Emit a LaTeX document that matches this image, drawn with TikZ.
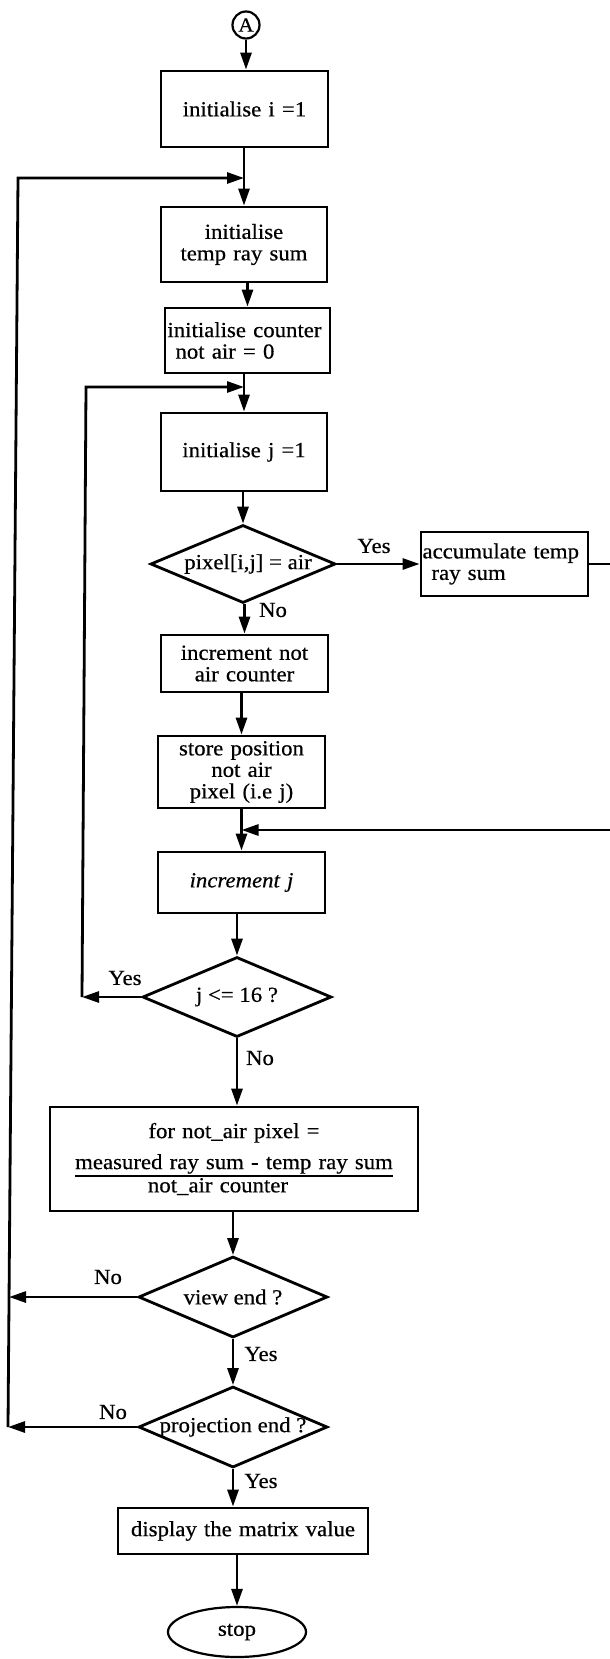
\documentclass[tikz,border=0pt]{standalone}
\usepackage{fontspec}
\setmainfont{Liberation Serif}[FakeStretch=1.06,FakeBold=0.5]
\usetikzlibrary{shapes.geometric,arrows.meta}
\newsavebox\ulbx
\newcommand\myul[1]{\leavevmode\sbox\ulbx{#1}\rlap{\rule[-8pt]{\wd\ulbx}{2pt}}\usebox\ulbx}
\tikzset{
  every node/.append style={font=\fontsize{21.5}{21.5}\selectfont},
  box/.style={draw, rectangle, line width=2.8pt, inner sep=0pt, align=center},
  dia/.style={draw, diamond, line width=2.8pt, inner sep=0pt, aspect=1},
  ln/.style={line width=2.8pt},
  arr/.style={line width=2.8pt, -{Triangle[length=17pt,width=11pt]}},
  lab/.style={inner sep=0pt},
}
\begin{document}
\begin{tikzpicture}[x=1pt,y=-1pt]
\useasboundingbox (0,0) rectangle (610,1659);
% nodes
\node[draw, circle, line width=2.2pt, minimum size=27pt, inner sep=0pt, font=\fontsize{20}{20}\selectfont] (A) at (246,25) {A};
\node[box, minimum width=167pt, minimum height=76pt, text width=160pt] (b1) at (244.5,109) {initialise i =1};
\node[box, minimum width=166pt, minimum height=75pt, text width=160pt] (b2) at (244,244.5) {initialise\\temp ray sum};
\node[box, minimum width=165pt, minimum height=65pt, text width=160pt, align=left] (b3) at (247.5,340.5) {initialise counter\\\hspace*{8pt}not air = 0};
\node[box, minimum width=166pt, minimum height=78pt, text width=160pt] (b4) at (244,452) {initialise j =1};
\node[dia, minimum width=185pt, minimum height=78pt] (d1) at (243,564) {\makebox[0pt]{\hspace*{10pt}pixel[i,j] = air}};
\node[box, minimum width=167pt, minimum height=64pt, text width=164pt, align=left] (acc) at (504.5,564) {accumulate temp\\\hspace*{9pt}ray sum};
\node[box, minimum width=167pt, minimum height=57pt, text width=160pt] (b5) at (244.5,663.5) {increment not\\air counter};
\node[box, minimum width=167pt, minimum height=72pt, text width=160pt] (b6) at (241.5,772) {store position\\not air\\pixel (i.e j)};
\node[box, minimum width=167pt, minimum height=61pt, text width=160pt] (b7) at (241.5,882.5) {\itshape increment j};
\node[dia, minimum width=189pt, minimum height=80pt] (d2) at (237,997) {\makebox[0pt]{j <= 16 ?}};
\node[box, minimum width=368pt, minimum height=104pt, text width=360pt] (b8) at (234,1159) {for not\_air pixel =\\[9.5pt]\myul{measured ray sum - temp ray sum}\\\hspace*{-32pt}not\_air counter};
\node[dia, minimum width=189pt, minimum height=81pt] (d3) at (233,1297) {\makebox[0pt]{view end ?}};
\node[dia, minimum width=189pt, minimum height=81pt] (d4) at (233,1427) {\makebox[0pt]{projection end ?}};
\node[box, minimum width=250pt, minimum height=46pt, text width=244pt] (b9) at (243,1531) {display the matrix value};
\node[draw, ellipse, line width=2.2pt, minimum width=138pt, minimum height=50pt, inner sep=0pt] (stop) at (237,1632) {stop};
% labels
\node[lab] (y1) at (374,546) {Yes};
\node[lab] (n1) at (273,610) {No};
\node[lab] (y2) at (125,978) {Yes};
\node[lab] (n2) at (260,1058) {No};
\node[lab] (n3) at (108,1277) {No};
\node[lab] (y3) at (261,1354) {Yes};
\node[lab] (n4) at (113,1412) {No};
\node[lab] (y4) at (261,1481) {Yes};
% loop coordinates
\coordinate (t1) at (18,178);
\coordinate (o3) at (9,1297);
\coordinate (o4) at (8,1427);
\coordinate (i1) at (86,387);
\coordinate (i2) at (82,997);
\coordinate (r1) at (625,564);
\coordinate (r2) at (625,830);
% main flow
\draw[arr] (A.south) -- (A.south |- b1.north);
\draw[arr] (b2.north |- b1.south) -- (b2.north);
\draw[arr] (b3.north |- b2.south) -- (b3.north);
\draw[arr] (b4.north |- b3.south) -- (b4.north);
\draw[arr] (d1.north |- b4.south) -- (d1.north);
\draw[arr] (d1.east) -- (acc.west);
\draw[arr] (b5.north |- d1.south) -- (b5.north);
\draw[arr] (b6.north |- b5.south) -- (b6.north);
\draw[arr] (b7.north |- b6.south) -- (b7.north);
\draw[arr] (d2.north |- b7.south) -- (d2.north);
\draw[arr] (d2.south) -- (d2.south |- b8.north);
\draw[arr] (d3.north |- b8.south) -- (d3.north);
\draw[arr] (d4.north |- d3.south) -- (d4.north);
\draw[arr] (d4.south) -- (d4.south |- b9.north);
\draw[arr] (stop.north |- b9.south) -- (stop.north);
% loops
\draw[arr] (acc.east) -- (r1) -- (r2) -- (b7.north |- r2);
\draw[arr] (d2.west) -- (i2);
\draw[arr] (i2) -- (i1) -- (b4.north |- i1);
\draw[arr] (d3.west) -- (o3);
\draw[arr] (d4.west) -- (o4);
\draw[arr] (o4) -- (t1) -- (b2.north |- t1);
\end{tikzpicture}
\end{document}
